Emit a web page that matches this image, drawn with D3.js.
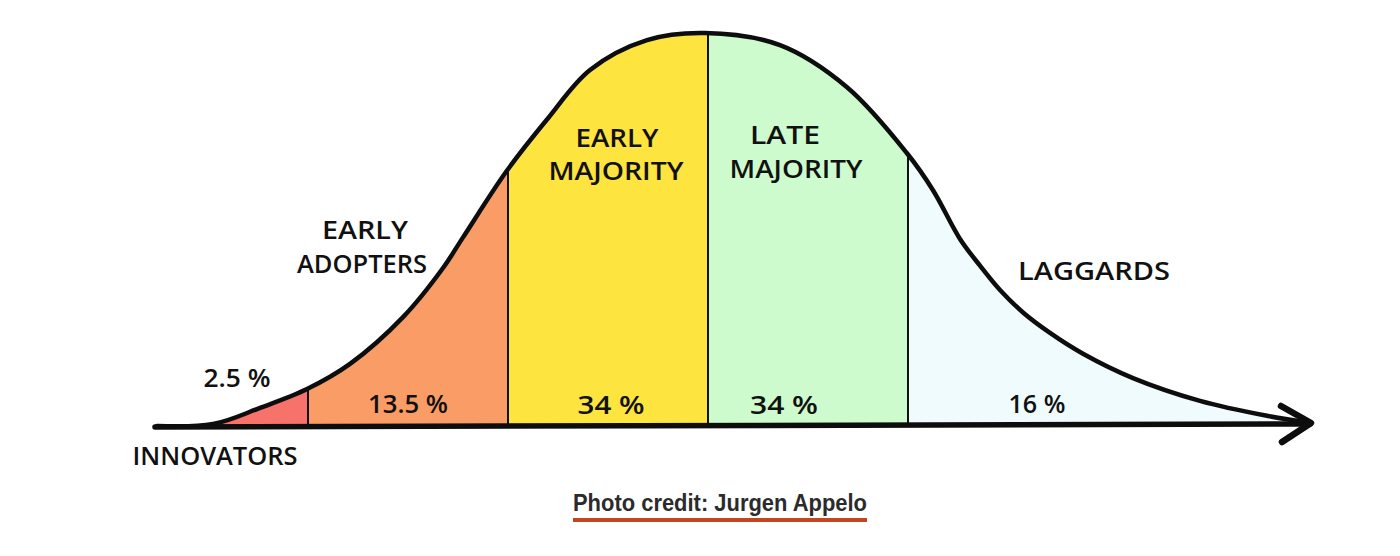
<!DOCTYPE html>
<html>
<head>
<meta charset="utf-8">
<script src="https://cdn.jsdelivr.net/npm/d3@7"></script>
<style>
  html, body { margin: 0; padding: 0; background: #fff; }
  svg { display: block; }
</style>
</head>
<body>
<svg id="chart" width="1400" height="556"></svg>
<script>
// ---- data (x in standard deviations from the mean, y = relative height, peak = 100) ----
const curveX = [-2.755, -2.475, -2.24, -2.005, -1.79, -1.525, -1.325, -1.225, -1.005, -0.805, -0.59, -0.305, -0.015, 0.36, 0.695, 0.995, 1.125, 1.26, 1.36, 1.46, 1.575, 1.71, 1.875, 2.125, 2.46, 2.795, 3.01];
const curveY = [0, 0.5, 4.6, 9.4, 15.8, 27.7, 40.2, 48.0, 65.0, 78.0, 90.6, 98.2, 100, 96.9, 86.2, 69.4, 60.0, 47.6, 40.8, 34.6, 28.9, 23.7, 18.4, 12.2, 6.4, 2.6, 0.8];
const segmentNames = ["Innovators", "Early Adopters", "Early Majority", "Late Majority", "Laggards"];
const segmentBounds = [-2.77, -2, -1, 0, 1, 3.02];
const segmentShares = ["2.5 %", "13.5 %", "34 %", "34 %", "16 %"];
const segmentColors = ["#F7726A", "#FA9C66", "#FDE43F", "#CDFBCD", "#EFFBFD"];
const credit = "Photo credit: Jurgen Appelo";

// ---- layout ----
const svg = d3.select("#chart");
const x = d3.scaleLinear().domain([-3, 3]).range([108, 1308]);
const y = d3.scaleLinear().domain([0, 100]).range([426, 33]);
const pts = curveX.map((v, i) => [v, curveY[i]]);

const area = d3.area().curve(d3.curveCatmullRom.alpha(0.5))
  .x(d => x(d[0])).y0(y(0)).y1(d => y(d[1]));
const line = d3.line().curve(d3.curveCatmullRom.alpha(0.5))
  .x(d => x(d[0])).y(d => y(d[1]));

const defs = svg.append("defs");
defs.append("clipPath").attr("id", "bell").append("path").attr("d", area(pts));
segmentNames.forEach((n, i) => {
  defs.append("clipPath").attr("id", "seg" + i).append("rect")
    .attr("x", x(segmentBounds[i])).attr("y", 0)
    .attr("width", x(segmentBounds[i + 1]) - x(segmentBounds[i])).attr("height", 556);
});

// fills
segmentNames.forEach((n, i) => {
  svg.append("path").attr("d", area(pts))
    .attr("fill", segmentColors[i])
    .attr("clip-path", `url(#seg${i})`);
});

// dividers
const dividers = svg.append("g").attr("clip-path", "url(#bell)");
segmentBounds.slice(1, -1).forEach(b => {
  dividers.append("line")
    .attr("x1", x(b)).attr("x2", x(b)).attr("y1", y(0)).attr("y2", y(105))
    .attr("stroke", "#111").attr("stroke-width", 2);
});

// curve outline
svg.append("path").attr("d", line(pts))
  .attr("fill", "none").attr("stroke", "#0d0d0d").attr("stroke-width", 4.5)
  .attr("stroke-linecap", "round").attr("stroke-linejoin", "round");

// baseline axis with arrow
const x0 = x(curveX[0]) - 2, x1 = x(curveX[curveX.length - 1]);
svg.append("path")
  .attr("d", `M${x0},${y(0) + 1} L${x1},${y(0) - 2}`)
  .attr("stroke", "#0d0d0d").attr("stroke-width", 5.5).attr("stroke-linecap", "round");
svg.append("path")
  .attr("d", `M${x1 - 29},${y(0) - 20} L${x1 + 1},${y(0) - 3} L${x1 - 28},${y(0) + 16}`)
  .attr("fill", "none").attr("stroke", "#0d0d0d").attr("stroke-width", 6.5)
  .attr("stroke-linecap", "round").attr("stroke-linejoin", "round");

// labels (positions in data units)
const font = "'Open Sans', 'DejaVu Sans', sans-serif";
const labels = [
  { t: "EARLY", x: -0.455, y: 70.9, w: 83 },
  { t: "MAJORITY", x: -0.46, y: 62.5, w: 135 },
  { t: "LATE", x: 0.385, y: 71.7, w: 70 },
  { t: "MAJORITY", x: 0.44, y: 63.0, w: 133 },
  { t: "EARLY", x: -1.715, y: 47.7, w: 86 },
  { t: "ADOPTERS", x: -1.73, y: 39.0, w: 130 },
  { t: "LAGGARDS", x: 1.93, y: 37.2, w: 152 },
  { t: segmentShares[0], x: -2.355, y: 9.9, w: 67 },
  { t: segmentShares[1], x: -1.5, y: 3.3, w: 80 },
  { t: segmentShares[2], x: -0.485, y: 3.1, w: 67 },
  { t: segmentShares[3], x: 0.38, y: 3.1, w: 68 },
  { t: segmentShares[4], x: 1.645, y: 3.3, w: 57 },
  { t: "INNOVATORS", x: -2.465, y: -10.0, w: 165 }
];
svg.append("g").selectAll("text").data(labels).join("text")
  .attr("x", d => x(d.x)).attr("y", d => y(d.y))
  .attr("text-anchor", "middle")
  .attr("font-family", font).attr("font-weight", 600).attr("font-size", 25)
  .attr("fill", "#111")
  .attr("textLength", d => d.w).attr("lengthAdjust", "spacingAndGlyphs")
  .text(d => d.t);

// credit
svg.append("text")
  .attr("x", 720).attr("y", 511).attr("text-anchor", "middle")
  .attr("font-family", "'Liberation Sans', Arial, sans-serif")
  .attr("font-weight", 700).attr("font-size", 23).attr("fill", "#2b2b2b")
  .attr("textLength", 294).attr("lengthAdjust", "spacingAndGlyphs")
  .text(credit);
svg.append("rect")
  .attr("x", 573).attr("y", 518).attr("width", 294).attr("height", 4)
  .attr("fill", "#C2461E");
</script>
</body>
</html>
